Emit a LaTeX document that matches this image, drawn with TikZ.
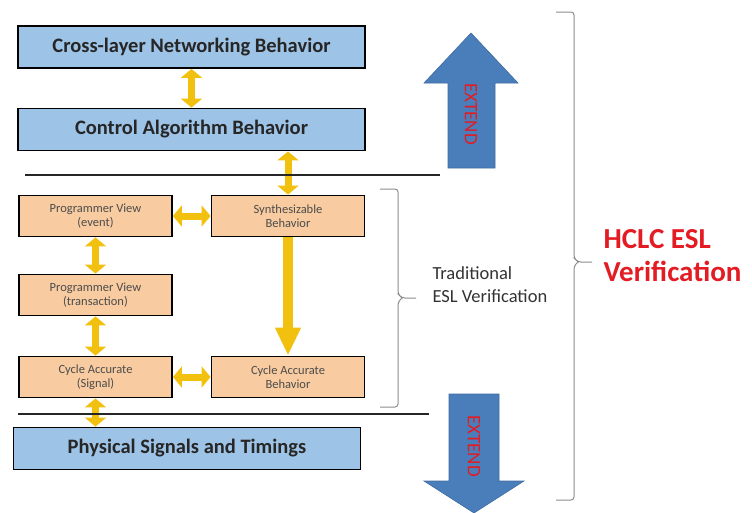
\documentclass[tikz,border=0pt]{standalone}
\usepackage{fontspec}
\setmainfont{Carlito}
\usetikzlibrary{positioning, arrows.meta}
\definecolor{boxblue}{HTML}{9DC3E6}
\definecolor{boxpeach}{HTML}{F8CBA0}
\definecolor{arrgold}{HTML}{F2C10F}
\definecolor{extblue}{HTML}{4A7EBB}
\definecolor{hclcred}{HTML}{E31B23}

\begin{document}
\begin{tikzpicture}[x=1pt, y=-1pt,
    bigbox/.style={draw=black, line width=1.8pt, fill=boxblue, minimum width=347pt, minimum height=42pt, font=\fontsize{20.5}{24}\selectfont\bfseries, text=black!85},
    smallbox/.style={draw=black, line width=1.8pt, fill=boxpeach, minimum width=153pt, minimum height=41pt, align=center, font=\fontsize{12.5}{14}\selectfont, text=black!70},
    dblarrow/.style={line width=7pt, draw=arrgold, {Triangle[width=21pt,length=9pt]}-{Triangle[width=21pt,length=9pt]}},
    bigarrow/.style={draw=extblue!85!black, line width=0.6pt, fill=extblue},
    extlabel/.style={rotate=-90, text=hclcred, font=\fontsize{19}{22}\selectfont},
    sepline/.style={line width=2.4pt, black!85},
    bracket/.style={draw=black!45, line width=1pt, rounded corners=3pt}]
    \useasboundingbox (0,0) rectangle (752,512);

    % top layers
    \node[bigbox] (cross) at (191.5,47) {Cross-layer Networking Behavior};
    \node[bigbox] (ctrl) at (191.5,129.5) {Control Algorithm Behavior};
    \draw[dblarrow] (cross.south) -- (ctrl.north);

    % traditional ESL levels
    \node[smallbox] (pvevent) at (95.5,216) {Programmer View\\(event)};
    \node[smallbox] (synth) at (288,216) {Synthesizable\\Behavior};
    \node[smallbox] (pvtrans) at (95.5,295) {Programmer View\\(transaction)};
    \node[smallbox] (casig) at (95.5,377) {Cycle Accurate\\(Signal)};
    \node[smallbox] (cabeh) at (288,377) {Cycle Accurate\\Behavior};

    \draw[dblarrow] (ctrl.south -| synth) -- (synth.north);
    \draw[dblarrow] (pvevent.east) -- (synth.west);
    \draw[dblarrow] (pvevent.south) -- (pvtrans.north);
    \draw[dblarrow] (pvtrans.south) -- (casig.north);
    \draw[dblarrow] (casig.east) -- (cabeh.west);
    \draw[line width=10pt, draw=arrgold, -{Triangle[width=24pt,length=28pt]}] (synth.south) -- (cabeh.north);

    % physical layer
    \node[bigbox] (phys) at (187,448.5) {Physical Signals and Timings};
    \draw[dblarrow] (casig.south) -- (phys.north -| casig);

    \draw[sepline] (25,175) -- (440,175);
    \draw[sepline] (18,414) -- (429,414);

    % extend arrows
    \draw[bigarrow] (471,33) -- (518,83) -- (495,83) -- (495,168) -- (448,168) -- (448,83) -- (424,83) -- cycle;
    \node[extlabel] (extup) at (471,114) {EXTEND};
    \draw[bigarrow] (449,394) -- (499,394) -- (499,481) -- (524,481) -- (474,513) -- (424,481) -- (449,481) -- cycle;
    \node[extlabel] (extdown) at (474,446) {EXTEND};

    % brackets
    \draw[bracket] (380,189) -- (398,189) -- (398,294) -- (402,298) -- (416,298);
    \draw[bracket] (402,298) -- (398,302) -- (398,407) -- (380,407);
    \node[anchor=west, align=left, text=black!80, font=\fontsize{18.5}{23}\selectfont] (trad) at (429,285) {Traditional\\ESL Verification};

    \draw[bracket] (556,12) -- (574,12) -- (574,258) -- (578,262) -- (592,262);
    \draw[bracket] (578,262) -- (574,266) -- (574,500) -- (556,500);
    \node[anchor=west, align=left, text=hclcred, font=\fontsize{29}{33}\selectfont\bfseries] (hclc) at (600,256) {HCLC ESL\\Verification};
\end{tikzpicture}
\end{document}
